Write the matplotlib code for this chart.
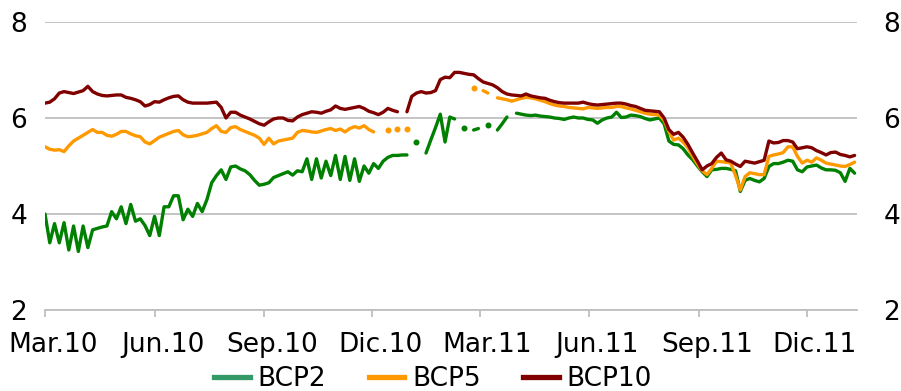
import numpy as np
import pandas as pd
import matplotlib
matplotlib.use("Agg")
import matplotlib.pyplot as plt
from matplotlib.lines import Line2D
from matplotlib.transforms import ScaledTranslation

plt.rcParams["font.family"] = ["DejaVu Sans"]

nan = np.nan

# Sampling grid: one observation every 4 days from 1 March 2010
start_date = "2010-03-01"
n_obs = 171
step = "4D"

bcp2 = [
    4.00, 3.40, 3.80, 3.40, 3.82, 3.25, 3.75, 3.22, 3.75, 3.30,
    3.67, 3.70, 3.73, 3.75, 4.05, 3.90, 4.15, 3.80, 4.20, 3.85,
    3.90, 3.76, 3.55, 3.95, 3.55, 4.15, 4.15, 4.38, 4.38, 3.88,
    4.10, 3.95, 4.22, 4.05, 4.30, 4.65, 4.80, 4.92, 4.72, 4.98,
    5.00, 4.94, 4.90, 4.82, 4.70, 4.60, 4.62, 4.65, 4.76, 4.80,
    4.84, 4.88, 4.81, 4.90, 4.88, 5.15, 4.72, 5.15, 4.75, 5.10,
    4.80, 5.22, 4.72, 5.20, 4.70, 5.15, 4.68, 5.00, 4.85, 5.05,
    4.95, 5.10, 5.18, 5.22, 5.22, 5.23, 5.23, nan, 5.50, nan,
    5.27, 5.54, 5.80, 6.08, 5.50, 6.02, 5.98, nan, 5.80, nan,
    5.75, 5.78, nan, 5.85, nan, 5.75, 5.88, 6.02, nan, 6.10,
    6.08, 6.06, 6.05, 6.06, 6.04, 6.03, 6.02, 6.00, 5.99, 5.97,
    6.00, 6.02, 6.00, 6.00, 5.97, 5.96, 5.89, 5.96, 6.00, 6.02,
    6.12, 6.01, 6.02, 6.06, 6.05, 6.03, 5.99, 5.96, 5.98, 6.00,
    5.88, 5.52, 5.45, 5.44, 5.36, 5.23, 5.13, 5.00, 4.88, 4.78,
    4.92, 4.93, 4.95, 4.95, 4.93, 4.90, 4.47, 4.70, 4.74, 4.70,
    4.67, 4.74, 4.99, 5.05, 5.05, 5.08, 5.12, 5.10, 4.92, 4.88,
    4.98, 5.00, 5.02, 4.96, 4.92, 4.92, 4.91, 4.86, 4.68, 4.95,
    4.85,
]

bcp5 = [
    5.40, 5.35, 5.33, 5.34, 5.30, 5.42, 5.52, 5.58, 5.64, 5.70,
    5.76, 5.70, 5.70, 5.64, 5.62, 5.66, 5.72, 5.72, 5.67, 5.63,
    5.61, 5.50, 5.46, 5.53, 5.60, 5.64, 5.68, 5.72, 5.74, 5.65,
    5.61, 5.62, 5.64, 5.67, 5.70, 5.78, 5.84, 5.72, 5.70, 5.80,
    5.82, 5.76, 5.72, 5.68, 5.64, 5.58, 5.45, 5.58, 5.46, 5.52,
    5.54, 5.56, 5.58, 5.70, 5.74, 5.73, 5.71, 5.70, 5.73, 5.76,
    5.78, 5.74, 5.77, 5.71, 5.78, 5.82, 5.79, 5.84, 5.76, 5.71,
    nan, nan, 5.74, nan, 5.77, nan, 5.78, nan, nan, nan,
    nan, nan, nan, nan, nan, nan, nan, nan, nan, nan,
    6.62, nan, 6.57, 6.52, nan, 6.42, 6.40, 6.38, 6.35, 6.38,
    6.41, 6.43, 6.42, 6.40, 6.37, 6.34, 6.30, 6.27, 6.25, 6.24,
    6.22, 6.21, 6.20, 6.19, 6.22, 6.21, 6.20, 6.21, 6.22, 6.22,
    6.24, 6.24, 6.21, 6.19, 6.16, 6.13, 6.10, 6.08, 6.07, 6.06,
    5.95, 5.72, 5.54, 5.58, 5.50, 5.38, 5.20, 5.04, 4.90, 4.82,
    4.95, 5.10, 5.09, 5.08, 5.06, 4.80, 4.50, 4.78, 4.86, 4.84,
    4.82, 4.82, 5.20, 5.23, 5.25, 5.28, 5.40, 5.40, 5.20, 5.06,
    5.12, 5.08, 5.17, 5.12, 5.06, 5.04, 5.02, 5.00, 4.99, 5.03,
    5.08,
]

bcp10 = [
    6.31, 6.33, 6.40, 6.52, 6.55, 6.53, 6.51, 6.54, 6.57, 6.66,
    6.55, 6.50, 6.47, 6.46, 6.47, 6.48, 6.48, 6.43, 6.41, 6.38,
    6.34, 6.25, 6.28, 6.34, 6.33, 6.38, 6.42, 6.45, 6.46, 6.38,
    6.33, 6.31, 6.31, 6.31, 6.31, 6.32, 6.33, 6.22, 6.00, 6.12,
    6.12, 6.06, 6.02, 5.98, 5.93, 5.88, 5.85, 5.92, 5.98, 6.00,
    6.00, 5.95, 5.94, 6.02, 6.07, 6.10, 6.13, 6.12, 6.10, 6.14,
    6.17, 6.25, 6.20, 6.18, 6.20, 6.22, 6.24, 6.20, 6.14, 6.11,
    6.07, 6.12, 6.20, 6.16, 6.13, nan, 6.13, 6.45, 6.52, 6.55,
    6.52, 6.53, 6.57, 6.80, 6.85, 6.84, 6.95, 6.95, 6.93, 6.91,
    6.90, 6.82, 6.75, 6.72, 6.69, 6.63, 6.55, 6.50, 6.48, 6.47,
    6.46, 6.50, 6.46, 6.44, 6.42, 6.41, 6.37, 6.34, 6.32, 6.31,
    6.31, 6.31, 6.31, 6.33, 6.30, 6.28, 6.27, 6.28, 6.29, 6.30,
    6.31, 6.31, 6.29, 6.26, 6.24, 6.20, 6.16, 6.15, 6.14, 6.13,
    6.00, 5.76, 5.66, 5.70, 5.60, 5.45, 5.27, 5.10, 4.92, 5.00,
    5.05, 5.18, 5.27, 5.13, 5.10, 5.04, 4.99, 5.10, 5.08, 5.06,
    5.09, 5.12, 5.52, 5.48, 5.49, 5.53, 5.53, 5.50, 5.36, 5.38,
    5.40, 5.38, 5.32, 5.28, 5.23, 5.28, 5.29, 5.24, 5.22, 5.19,
    5.22,
]

tick_dates = ["2010-03-01", "2010-06-01", "2010-09-01", "2010-12-01",
              "2011-03-01", "2011-06-01", "2011-09-01", "2011-12-01"]
tick_labels = ["Mar.10", "Jun.10", "Sep.10", "Dic.10",
               "Mar.11", "Jun.11", "Sep.11", "Dic.11"]
y_ticks = [2, 4, 6, 8]

series_names = ["BCP2", "BCP5", "BCP10"]
line_colors = ["#008000", "#FF9900", "#800000"]
legend_colors = ["#339966", "#FF9900", "#800000"]

dates = pd.date_range(start_date, periods=n_obs, freq=step)

fig = plt.figure(figsize=(9.01, 3.91), dpi=100)
ax = fig.add_axes([45 / 901, 81 / 391, 812 / 901, 288 / 391])

font_size = 19
grid_color = "#BFBFBF"
for name, vals, col in zip(series_names, [bcp2, bcp5, bcp10], line_colors):
    v = np.array(vals, dtype=float)
    ax.plot(dates, v, color=col, lw=2.4, solid_capstyle="round",
            solid_joinstyle="round", zorder=3)
    # lone observations (no neighbour on either side) drawn as dots
    prev_nan = np.r_[True, np.isnan(v[:-1])]
    next_nan = np.r_[np.isnan(v[1:]), True]
    lone = ~np.isnan(v) & prev_nan & next_nan
    ax.plot(dates[lone], v[lone], ls="none", marker="o", ms=3.3,
            color=col, mec=col, zorder=3)

ax.set_ylim(2, 8)
ax.set_xlim(pd.Timestamp("2010-03-01"), pd.Timestamp("2012-01-12"))
ax.set_yticks(y_ticks)
ax.set_yticklabels([str(t) for t in y_ticks])
ax.set_xticks(pd.to_datetime(tick_dates))
ax.set_xticklabels(tick_labels)

for s in ["top", "left", "right"]:
    ax.spines[s].set_visible(False)
ax.spines["bottom"].set_color(grid_color)
ax.spines["bottom"].set_linewidth(1.3)
ax.yaxis.grid(True, color=grid_color, lw=1.3)
ax.set_axisbelow(True)

ax.tick_params(axis="x", direction="out", length=5, width=1.3,
               color=grid_color, labelsize=font_size, pad=11)
ax.tick_params(axis="y", length=0, labelsize=font_size, pad=13)

offset = ScaledTranslation(8 / 100, 0, fig.dpi_scale_trans)
for lab in ax.get_xticklabels():
    lab.set_transform(lab.get_transform() + offset)

ax2 = ax.twinx()
ax2.set_ylim(ax.get_ylim())
ax2.set_yticks(y_ticks)
ax2.set_yticklabels([str(t) for t in y_ticks])
ax2.tick_params(axis="y", length=0, labelsize=font_size, pad=19)
for s in ax2.spines.values():
    s.set_visible(False)

handles = [Line2D([], [], color=c, lw=3.8) for c in legend_colors]
fig.legend(handles, series_names, loc="center",
           bbox_to_anchor=(433 / 901, 12 / 391), ncol=3, frameon=False,
           fontsize=font_size, handlelength=1.35, handletextpad=0.3,
           columnspacing=1.6, borderaxespad=0, borderpad=0)

fig.savefig("out.png", dpi=100)
